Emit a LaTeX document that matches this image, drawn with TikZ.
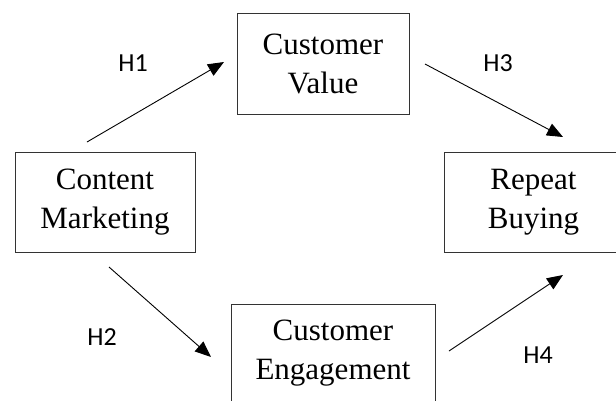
\documentclass[tikz,border=0pt]{standalone}
\usepackage{fontspec}
\setmainfont{Liberation Serif}
\newfontfamily\hfont{Carlito}
\usetikzlibrary{arrows.meta}

\begin{document}
\begin{tikzpicture}[x=1pt, y=-1pt,
    main/.style = {draw=black!80, line width=1pt, rectangle, align=center, inner sep=0pt,
                   font=\fontsize{31}{39}\selectfont},
    link/.style = {-{Triangle[length=16pt,width=13pt]}, line width=0.9pt},
    hyp/.style = {font=\hfont\fontsize{26}{30}\selectfont}]
        \useasboundingbox (0,0) rectangle (616,400);

        \node[main, minimum width=180pt, minimum height=100pt] (1) at (105,202) {Content\\Marketing};
        \node[main, minimum width=172pt, minimum height=101pt] (2) at (323,63.5) {Customer\\Value};
        \node[main, minimum width=204pt, minimum height=98pt] (3) at (333,353) {Customer\\Engagement};
        \node[main, minimum width=179pt, minimum height=100pt] (4) at (533.5,202) {Repeat\\Buying};

        \coordinate (5) at (87,142);
        \coordinate (6) at (224,62);
        \coordinate (7) at (425,64);
        \coordinate (8) at (563,137);
        \coordinate (9) at (109,267);
        \coordinate (10) at (211,357);
        \coordinate (11) at (449,351);
        \coordinate (12) at (563,275);

        \node[hyp] (13) at (133,63) {H1};
        \node[hyp] (14) at (498,63) {H3};
        \node[hyp] (15) at (102,337) {H2};
        \node[hyp] (16) at (538,355) {H4};

        \draw [link] (5) -- (6);
        \draw [link] (7) -- (8);
        \draw [link] (9) -- (10);
        \draw [link] (11) -- (12);
\end{tikzpicture}
\end{document}
